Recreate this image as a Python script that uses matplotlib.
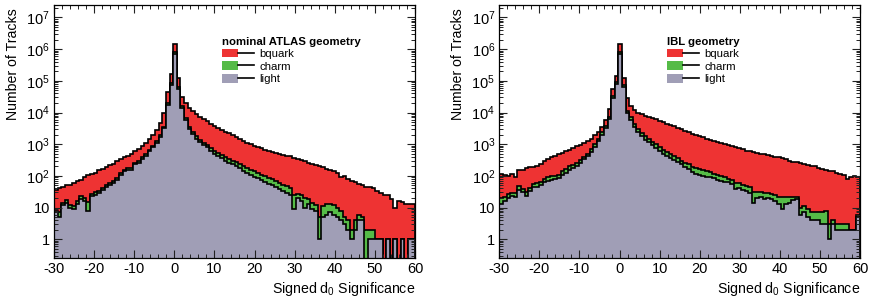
import numpy as np
import matplotlib.pyplot as plt
from matplotlib.patches import Patch
from matplotlib.lines import Line2D
from matplotlib.legend_handler import HandlerTuple
from matplotlib.ticker import MultipleLocator, LogLocator, FuncFormatter, NullFormatter

plt.rcParams['font.family'] = ['Liberation Sans', 'DejaVu Sans']
plt.rcParams['mathtext.fontset'] = 'custom'
plt.rcParams['mathtext.rm'] = 'Liberation Sans'
plt.rcParams['axes.unicode_minus'] = False

# 100 bins between -30 and 60
bin_edges = np.linspace(-30, 60, 101)

# nominal ATLAS geometry (tracks per bin)
nominal_light = [7, 5, 12, 14, 10, 9, 13, 19, 16, 8,
                 23, 25, 28, 35, 46, 50, 60, 76, 110, 138,
                 158, 151, 229, 263, 347, 437, 603, 794, 1100, 1740,
                 3160, 17800, 76000, 692000, 56000, 14100, 5600, 3000, 2090, 1510,
                 1150, 955, 794, 631, 501, 417, 363, 302, 263, 229,
                 200, 174, 145, 126, 110, 95, 83, 72, 63, 55,
                 50, 44, 38, 33, 29, 25, 9, 20, 16, 10,
                 13, 9, 8, 1, 5, 6, 7, 6, 5, 4,
                 3, 2, 1, 2, 4, 4, 0, 1, 1, 1,
                 1, 0, 1, 0, 1, 0, 1, 0, 1, 1]
nominal_charm = [1, 2, 2, 3, 2, 2, 3, 4, 4, 7,
                 4, 5, 5, 6, 7, 8, 10, 12, 15, 20,
                 22, 30, 30, 35, 45, 55, 70, 90, 130, 200,
                 400, 2500, 10000, 140000, 7000, 2200, 900, 500, 350, 250,
                 190, 160, 140, 120, 130, 115, 100, 90, 80, 72,
                 66, 60, 54, 50, 48, 44, 40, 36, 33, 30,
                 28, 25, 22, 20, 18, 16, 16, 6, 8, 10,
                 6, 5, 4, 4, 6, 7, 6, 6, 5, 4,
                 2, 2, 1, 2, 2, 1, 2, 1, 1, 0,
                 0, 0, 0, 0, 0, 0, 0, 0, 0, 0]
nominal_bquark = [27, 33, 30, 33, 40, 49, 53, 53, 75, 90,
                  88, 96, 118, 125, 137, 161, 170, 200, 206, 222,
                  257, 320, 344, 426, 479, 608, 772, 1120, 1650, 2630,
                  6440, 25400, 76000, 613000, 57000, 15300, 13500, 10600, 8760, 7340,
                  6060, 5190, 4320, 3720, 3170, 2780, 2420, 2120, 1850, 1600,
                  1390, 1210, 1060, 924, 842, 751, 687, 632, 579, 545,
                  497, 456, 430, 394, 370, 376, 338, 305, 292, 268,
                  244, 226, 207, 195, 179, 153, 138, 133, 116, 87,
                  95, 75, 67, 62, 49, 47, 44, 42, 38, 32,
                  27, 25, 23, 18, 9, 16, 14, 13, 12, 12]

# IBL geometry
ibl_light = [13, 16, 20, 23, 22, 35, 30, 23, 33, 44,
             46, 50, 63, 71, 76, 79, 83, 110, 126, 158,
             182, 209, 263, 331, 417, 575, 832, 1260, 2000, 3160,
             6300, 28200, 79400, 692000, 63000, 9500, 6000, 3550, 2400, 1780,
             1380, 1150, 912, 759, 603, 501, 437, 372, 316, 275,
             229, 191, 166, 132, 115, 110, 100, 95, 91, 87,
             76, 69, 66, 62, 55, 38, 42, 36, 34, 29,
             14, 20, 21, 19, 20, 19, 16, 13, 9, 13,
             14, 17, 19, 6, 7, 5, 4, 4, 4, 3,
             3, 1, 3, 2, 2, 2, 2, 2, 2, 5]
ibl_charm = [7, 6, 6, 6, 7, 12, 8, 8, 9, 12,
             12, 14, 16, 18, 20, 22, 26, 30, 34, 40,
             45, 52, 60, 75, 90, 120, 160, 230, 350, 550,
             1100, 5000, 14000, 140000, 9000, 1600, 1000, 900, 650, 500,
             420, 360, 300, 270, 200, 170, 140, 120, 100, 85,
             75, 70, 68, 62, 60, 55, 48, 45, 40, 30,
             30, 28, 26, 20, 18, 20, 16, 15, 15, 14,
             16, 12, 10, 10, 9, 8, 8, 9, 12, 8,
             7, 4, 3, 4, 4, 4, 3, 3, 3, 4,
             5, 2, 1, 1, 1, 1, 1, 0, 0, 1]
ibl_bquark = [95, 83, 74, 83, 60, 104, 120, 143, 144, 134,
              151, 176, 223, 250, 284, 336, 370, 385, 443, 478,
              532, 590, 632, 694, 753, 815, 908, 1020, 1200, 1910,
              5200, 21800, 51600, 613000, 54000, 17100, 8800, 7550, 6950, 6620,
              6140, 5730, 5400, 5000, 4700, 4230, 3890, 3490, 3210, 2880,
              2650, 2430, 2170, 1950, 1725, 1615, 1510, 1370, 1250, 1170,
              1090, 1020, 928, 851, 798, 755, 701, 641, 582, 560,
              545, 505, 470, 450, 428, 410, 383, 358, 342, 310,
              281, 261, 247, 241, 229, 215, 202, 193, 175, 159,
              150, 142, 134, 123, 112, 107, 76, 93, 98, 83]

flavours = ['bquark', 'charm', 'light']
colors = {'bquark': '#EE3333', 'charm': '#55BB47', 'light': '#A09EB6'}
x_ticks = [-30, -20, -10, 0, 10, 20, 30, 40, 50, 60]
y_ticks = [1, 10, 1e2, 1e3, 1e4, 1e5, 1e6, 1e7]

YMIN, YMAX = 0.25, 2.5e7
FLOOR = 1e-3


def decade_label(v, pos):
    n = int(round(np.log10(v)))
    if n == 0:
        return '1'
    if n == 1:
        return '10'
    return r'$\mathregular{10^{%d}}$' % n


def draw_panel(ax, light, charm, bquark, title):
    light = np.array(light, dtype=float)
    charm = np.array(charm, dtype=float)
    bquark = np.array(bquark, dtype=float)
    # stacked: light at the bottom, then charm, bquark on top
    levels = {'light': light, 'charm': light + charm, 'bquark': light + charm + bquark}
    for name in flavours:
        v = np.where(levels[name] > 0, levels[name], FLOOR)
        ax.stairs(v, bin_edges, baseline=FLOOR, fill=True, color=colors[name], lw=0)
        ax.stairs(v, bin_edges, baseline=FLOOR, fill=False, color='black', lw=1.2)

    ax.set_yscale('log')
    ax.set_xlim(-30, 60)
    ax.set_ylim(YMIN, YMAX)
    ax.set_xticks(x_ticks)
    ax.xaxis.set_minor_locator(MultipleLocator(2))
    ax.set_yticks(y_ticks)
    ax.yaxis.set_minor_locator(LogLocator(base=10, subs=np.arange(2, 10), numticks=100))
    ax.yaxis.set_major_formatter(FuncFormatter(decade_label))
    ax.yaxis.set_minor_formatter(NullFormatter())
    ax.tick_params(which='both', direction='in', top=True, right=True,
                   labelsize=10.5, color='#222222')
    ax.tick_params(which='major', length=6, width=0.8, pad=3)
    ax.tick_params(which='minor', length=3, width=0.7)
    for s in ax.spines.values():
        s.set_linewidth(0.9)

    ax.set_ylabel('Number of Tracks', fontsize=10.2, loc='top')
    ax.yaxis.set_label_coords(-0.094, 0.985)
    ax.set_xlabel(r'Signed $\mathregular{d_0}$ Significance', fontsize=10.2, loc='right')
    ax.xaxis.set_label_coords(1.0, -0.085)

    handles = [(Patch(facecolor=colors[n], edgecolor='none'),
                Line2D([], [], color='black', lw=1.2)) for n in flavours]
    leg = ax.legend(handles, flavours, title=title, loc='upper left',
                    bbox_to_anchor=(0.466, 0.872), frameon=False, fontsize=8.2,
                    title_fontproperties={'weight': 'bold', 'size': 8.2},
                    alignment='left', handlelength=2.8, handleheight=0.8,
                    handletextpad=0.45, labelspacing=0.2, borderpad=0, borderaxespad=0,
                    handler_map={tuple: HandlerTuple(ndivide=None, pad=0)})
    leg._legend_box.sep = 1


fig = plt.figure(figsize=(8.71, 3.06), dpi=100)
ax1 = fig.add_axes([0.062, 0.156, 0.4145, 0.828])
ax2 = fig.add_axes([0.5733, 0.156, 0.4141, 0.828])

draw_panel(ax1, nominal_light, nominal_charm, nominal_bquark, 'nominal ATLAS geometry')
draw_panel(ax2, ibl_light, ibl_charm, ibl_bquark, 'IBL geometry')

fig.savefig('out.png', dpi=100)
